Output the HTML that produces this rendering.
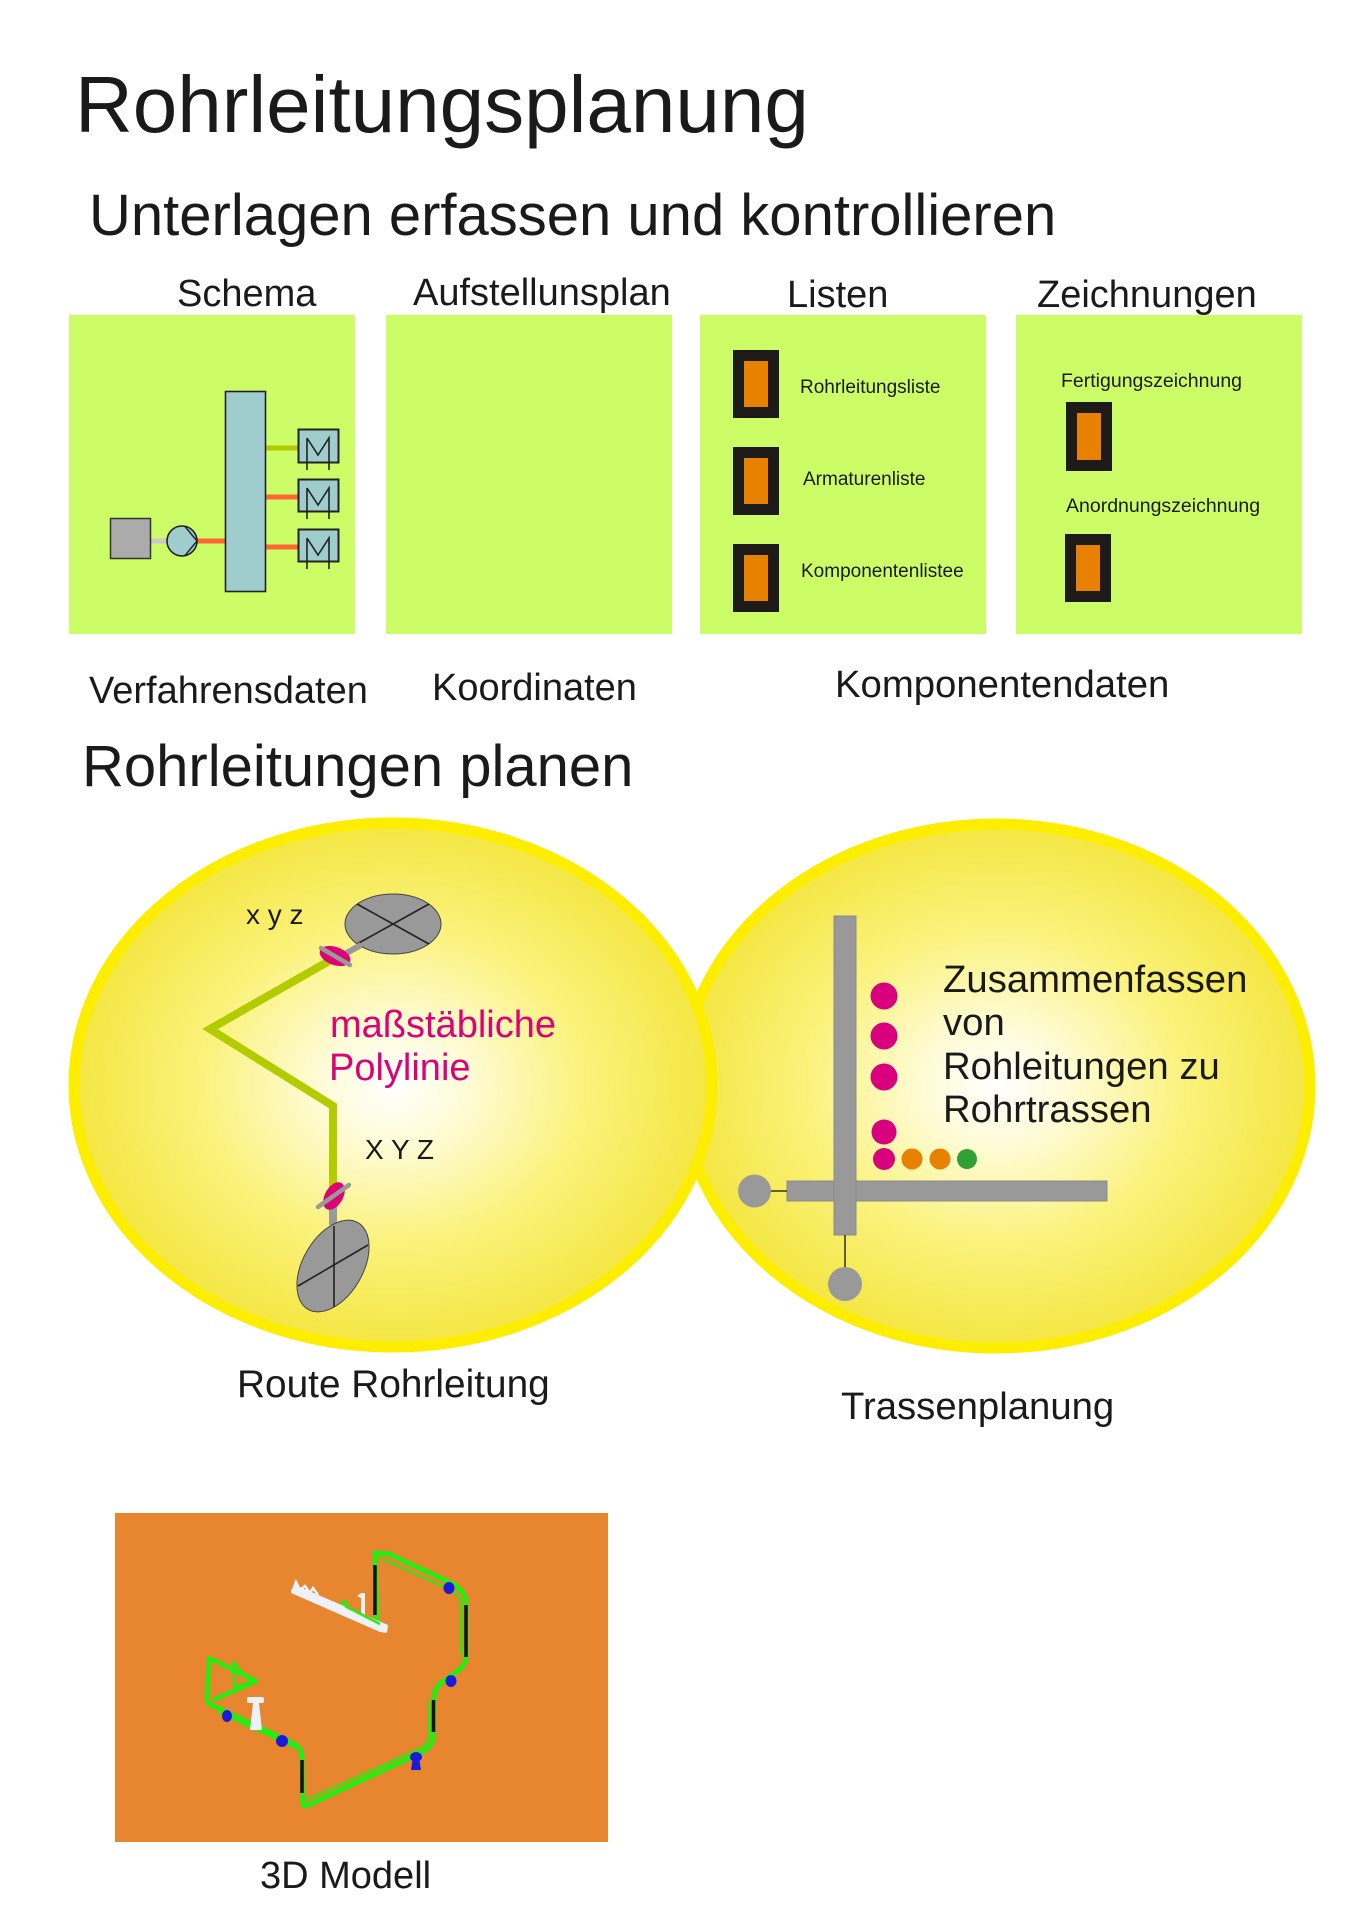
<!DOCTYPE html>
<html>
<head>
<meta charset="utf-8">
<style>
html,body{margin:0;padding:0;background:#fff;}
svg{display:block;}
text{font-family:"Liberation Sans",Arial,sans-serif;fill:#1a1a1a;}
</style>
</head>
<body>
<svg width="1356" height="1920" viewBox="0 0 1356 1920" xmlns="http://www.w3.org/2000/svg">
<defs>
<radialGradient id="yg" cx="50%" cy="50%" r="50%">
<stop offset="0" stop-color="#ffffff"/>
<stop offset="0.25" stop-color="#fefbd2"/>
<stop offset="0.6" stop-color="#fbf27c"/>
<stop offset="1" stop-color="#f4e642"/>
</radialGradient>
</defs>

<!-- Titles -->
<text x="75" y="132" font-size="80">Rohrleitungsplanung</text>
<text x="89" y="235" font-size="58">Unterlagen erfassen und kontrollieren</text>

<text x="177" y="306" font-size="38">Schema</text>
<text x="413" y="305" font-size="38">Aufstellunsplan</text>
<text x="787" y="307" font-size="38">Listen</text>
<text x="1037" y="307" font-size="38">Zeichnungen</text>

<!-- Lime boxes -->
<rect x="69" y="315" width="286" height="319" fill="#cdfd66"/>
<rect x="386" y="315" width="286" height="319" fill="#cdfd66"/>
<rect x="700" y="315" width="286" height="319" fill="#cdfd66"/>
<rect x="1016" y="315" width="286" height="319" fill="#cdfd66"/>

<!-- Schema drawing -->
<line x1="151" y1="541" x2="169" y2="541" stroke="#c8c8c8" stroke-width="5"/>
<line x1="196" y1="541" x2="226" y2="541" stroke="#ff6633" stroke-width="5"/>
<line x1="265" y1="448" x2="299" y2="448" stroke="#b5c800" stroke-width="5"/>
<line x1="265" y1="497" x2="299" y2="497" stroke="#ff6633" stroke-width="5"/>
<line x1="265" y1="547" x2="299" y2="547" stroke="#ff6633" stroke-width="5"/>
<rect x="110.5" y="518.5" width="40" height="40" fill="#ababab" stroke="#333" stroke-width="1.5"/>
<circle cx="182" cy="541" r="15" fill="#9fcdcd" stroke="#222" stroke-width="1.6"/>
<polyline points="185,526.5 197,541 185,555.5" fill="none" stroke="#222" stroke-width="1.4"/>
<rect x="225.5" y="391.5" width="40" height="200" fill="#9fcdcd" stroke="#222" stroke-width="1.6"/>
<g fill="#9fcdcd" stroke="#222" stroke-width="2">
<rect x="298.5" y="429.5" width="40" height="33"/>
<rect x="298.5" y="479.5" width="40" height="32"/>
<rect x="298.5" y="529.5" width="40" height="32"/>
</g>
<g fill="none" stroke="#222" stroke-width="1.6">
<path d="M307 438 V470 M307 438 L318 455 L329 438 V470"/>
<path d="M307 488 V519 M307 488 L318 505 L329 488 V519"/>
<path d="M307 538 V569 M307 538 L318 555 L329 538 V569"/>
</g>

<!-- Listen -->
<g fill="#1e1a18">
<rect x="733" y="350" width="46" height="68"/>
<rect x="733" y="447" width="46" height="68"/>
<rect x="733" y="544" width="46" height="68"/>
<rect x="1066" y="402" width="46" height="69"/>
<rect x="1065" y="534" width="46" height="68"/>
</g>
<g fill="#e88000">
<rect x="744" y="361" width="24" height="46"/>
<rect x="744" y="458" width="24" height="46"/>
<rect x="744" y="555" width="24" height="46"/>
<rect x="1077" y="413" width="24" height="47"/>
<rect x="1076" y="545" width="24" height="46"/>
</g>
<text x="800" y="393" font-size="19">Rohrleitungsliste</text>
<text x="803" y="485" font-size="19">Armaturenliste</text>
<text x="801" y="577" font-size="19">Komponentenlistee</text>
<text x="1061" y="387" font-size="19.5">Fertigungszeichnung</text>
<text x="1066" y="512" font-size="19.5">Anordnungszeichnung</text>

<text x="89" y="703" font-size="38">Verfahrensdaten</text>
<text x="432" y="700" font-size="38">Koordinaten</text>
<text x="835" y="697" font-size="38.3">Komponentendaten</text>

<text x="82" y="786" font-size="58">Rohrleitungen planen</text>

<!-- Ellipses -->
<ellipse cx="996" cy="1086" rx="314" ry="262" fill="url(#yg)" stroke="#fdee00" stroke-width="11"/>
<ellipse cx="393" cy="1085" rx="319" ry="262" fill="url(#yg)" stroke="#fdee00" stroke-width="11"/>

<!-- Left ellipse content -->
<text x="246" y="924" font-size="28">x y z</text>
<ellipse cx="393" cy="924" rx="48" ry="30" fill="#999" stroke="#444" stroke-width="1"/>
<line x1="357" y1="904" x2="429" y2="944" stroke="#222" stroke-width="1.6"/>
<line x1="429" y1="904" x2="357" y2="944" stroke="#222" stroke-width="1.6"/>
<line x1="361" y1="945" x2="343" y2="955" stroke="#999" stroke-width="6"/>
<polyline points="329,961 210,1029 333,1106 333,1188" fill="none" stroke="#b3cc00" stroke-width="8" stroke-linejoin="miter"/>
<ellipse cx="335" cy="956" rx="16" ry="9" fill="#dd0077" transform="rotate(20 335 956)"/>
<line x1="321" y1="948" x2="350" y2="965" stroke="#999" stroke-width="4.5" stroke-linecap="round"/>
<line x1="333" y1="1205" x2="333" y2="1225" stroke="#999" stroke-width="8"/>
<ellipse cx="334" cy="1196" rx="15" ry="9" fill="#dd0077" transform="rotate(-60 334 1196)"/>
<line x1="318" y1="1207" x2="349" y2="1185" stroke="#999" stroke-width="4.5" stroke-linecap="round"/>
<ellipse cx="333" cy="1266" rx="50" ry="30" fill="#999" stroke="#444" stroke-width="1" transform="rotate(-60 333 1266)"/>
<line x1="334" y1="1226" x2="334" y2="1307" stroke="#222" stroke-width="1.6"/>
<line x1="298" y1="1286" x2="368" y2="1245" stroke="#222" stroke-width="1.6"/>
<text x="330" y="1037" font-size="38" style="fill:#dd0077">maßstäbliche</text>
<text x="329" y="1080" font-size="38" style="fill:#dd0077">Polylinie</text>
<text x="365" y="1159" font-size="28">X Y Z</text>
<text x="237" y="1397" font-size="38.8">Route Rohrleitung</text>

<!-- Right ellipse content -->
<rect x="787" y="1181" width="320" height="20" fill="#999" stroke="#8a8a8a" stroke-width="1"/>
<rect x="834" y="916" width="22" height="319" fill="#999" stroke="#8a8a8a" stroke-width="1"/>
<line x1="770" y1="1191" x2="787" y2="1191" stroke="#111" stroke-width="1.3"/>
<circle cx="754.5" cy="1191" r="16.5" fill="#999"/>
<line x1="845" y1="1235" x2="845" y2="1268" stroke="#111" stroke-width="1.3"/>
<circle cx="845" cy="1284" r="17" fill="#999"/>
<g fill="#d9007e">
<circle cx="884" cy="996" r="13.5"/>
<circle cx="884" cy="1036" r="13.5"/>
<circle cx="884" cy="1077" r="13.5"/>
<circle cx="884" cy="1132" r="12.5"/>
<circle cx="884" cy="1159" r="11"/>
</g>
<circle cx="912" cy="1159" r="10.5" fill="#e88000"/>
<circle cx="940" cy="1159" r="10.5" fill="#e88000"/>
<circle cx="967" cy="1159" r="10" fill="#33a033"/>
<text x="943" y="992" font-size="38.3">Zusammenfassen</text>
<text x="943" y="1035" font-size="38.3">von</text>
<text x="943" y="1079" font-size="38.3">Rohleitungen zu</text>
<text x="943" y="1122" font-size="38.3">Rohrtrassen</text>
<text x="841" y="1419" font-size="38.3">Trassenplanung</text>

<!-- 3D Modell -->
<rect x="115" y="1513" width="493" height="329" fill="#e8852f"/>
<g fill="none" stroke="#22ee11" stroke-linejoin="round">
<path d="M377 1622 L375 1553 L389 1554 L453 1584 Q466 1592 466 1603 L466 1657 Q466 1665 456 1672 L441 1683 Q434 1689 434 1698 L433 1737 Q433 1746 422 1752 L306 1806 L303 1805 L302 1758 Q302 1748 292 1743 L218 1708 L207 1703" stroke-width="5"/>
<path d="M380 1558 L452 1591 Q461 1597 461 1606 L461 1655 M429 1700 L429 1736 Q428 1744 418 1749 L306 1800 M296 1748 L218 1713" stroke-width="2"/>
<path d="M207 1703 L209 1658 L256 1681 L213 1700" stroke-width="4.5"/>
<path d="M233 1662 L234.5 1687 L251 1682 Z" stroke-width="2.5"/>
</g>
<g stroke="#111" stroke-width="3.5">
<line x1="375" y1="1565" x2="375" y2="1615"/>
<line x1="466" y1="1605" x2="466" y2="1657"/>
<line x1="433.5" y1="1700" x2="433.5" y2="1732"/>
<line x1="302" y1="1760" x2="302" y2="1793"/>
</g>
<g fill="#1a1adc">
<ellipse cx="449" cy="1588" rx="5.5" ry="6"/>
<ellipse cx="451" cy="1681" rx="5.5" ry="6"/>
<ellipse cx="416" cy="1757" rx="6" ry="5"/>
<polygon points="413,1757 419,1757 421,1770 411,1770"/>
<ellipse cx="282" cy="1741" rx="6" ry="6"/>
<ellipse cx="227" cy="1716" rx="5" ry="6"/>
</g>
<g fill="#eef2f8">
<polygon points="291,1590 295,1585 388,1625 387,1633 380,1632 291,1593"/>
<polyline points="293,1590 296,1582 300,1590 305,1586 310,1593 313,1588 318,1595" fill="none" stroke="#eef2f8" stroke-width="2.5"/>
<rect x="361" y="1593" width="4" height="25"/>
<polygon points="357,1596 361,1593 361,1598"/>
<rect x="247" y="1697" width="17" height="6" rx="2"/>
<polygon points="253,1703 259,1703 262,1730 250,1730"/>
</g>
<rect x="341" y="1601" width="7" height="4" fill="#22ee11"/>
<line x1="345" y1="1606" x2="380" y2="1624" stroke="#22ee11" stroke-width="2.5"/>
<text x="260" y="1888" font-size="38">3D Modell</text>
</svg>
</body>
</html>
